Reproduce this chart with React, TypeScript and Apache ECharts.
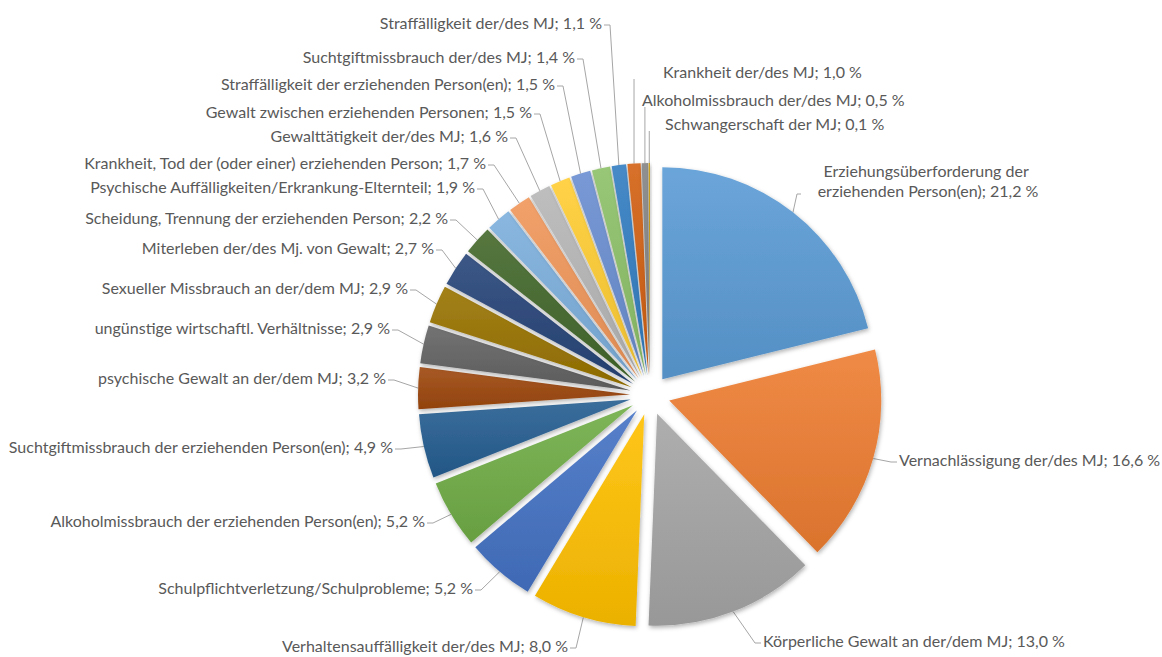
import React, { useEffect, useRef } from 'react';
import * as echarts from 'echarts';

const categories = [
  'Erziehungsüberforderung der erziehenden Person(en)',
  'Vernachlässigung der/des MJ',
  'Körperliche Gewalt an der/dem MJ',
  'Verhaltensauffälligkeit der/des MJ',
  'Schulpflichtverletzung/Schulprobleme',
  'Alkoholmissbrauch der erziehenden Person(en)',
  'Suchtgiftmissbrauch der erziehenden Person(en)',
  'psychische Gewalt an der/dem MJ',
  'ungünstige wirtschaftl. Verhältnisse',
  'Sexueller Missbrauch an der/dem MJ',
  'Miterleben der/des Mj. von Gewalt',
  'Scheidung, Trennung der erziehenden Person',
  'Psychische Auffälligkeiten/Erkrankung-Elternteil',
  'Krankheit, Tod der (oder einer) erziehenden Person',
  'Gewalttätigkeit der/des MJ',
  'Gewalt zwischen erziehenden Personen',
  'Straffälligkeit der erziehenden Person(en)',
  'Suchtgiftmissbrauch der/des MJ',
  'Straffälligkeit der/des MJ',
  'Krankheit der/des MJ',
  'Alkoholmissbrauch der/des MJ',
  'Schwangerschaft der MJ',
];

const values = [21.2, 16.6, 13.0, 8.0, 5.2, 5.2, 4.9, 3.2, 2.9, 2.9, 2.7, 2.2, 1.9, 1.7, 1.6, 1.5, 1.5, 1.4, 1.1, 1.0, 0.5, 0.1];

const baseColors = [
  '#5B9BD5', '#ED7D31', '#A5A5A5', '#FFC000', '#4472C4', '#70AD47',
  '#255E91', '#9E480E', '#636363', '#997300', '#264478', '#43682B',
  '#7CAFDD', '#F1975A', '#B7B7B7', '#FFCD33', '#698ED0', '#8CC168',
  '#327DC2', '#D26012', '#848484', '#BF9000',
];

// label anchor positions (x, y, align) — layout only
const LABEL_POS: [number, number, string][] = [
  [928, 180, 'center'],
  [899, 459, 'left'],
  [763, 640, 'left'],
  [568, 645, 'right'],
  [473, 587, 'right'],
  [425, 520, 'right'],
  [393, 446, 'right'],
  [386, 377, 'right'],
  [390, 327, 'right'],
  [408, 287, 'right'],
  [434, 247, 'right'],
  [448, 217, 'right'],
  [475, 186, 'right'],
  [486, 162, 'right'],
  [508, 135, 'right'],
  [532, 111, 'right'],
  [555, 83, 'right'],
  [575, 56, 'right'],
  [602, 22, 'right'],
  [663, 71, 'left'],
  [642, 99, 'left'],
  [665, 123, 'left'],
];

const CX = 650;
const CY = 395;
const R = 212;
const OFFSET = 20;

function shade(hex: string, f: number): string {
  const n = parseInt(hex.slice(1), 16);
  let r = (n >> 16) & 255, g = (n >> 8) & 255, b = n & 255;
  if (f >= 0) {
    r = Math.round(r + (255 - r) * f); g = Math.round(g + (255 - g) * f); b = Math.round(b + (255 - b) * f);
  } else {
    r = Math.round(r * (1 + f)); g = Math.round(g * (1 + f)); b = Math.round(b * (1 + f));
  }
  return `rgb(${r},${g},${b})`;
}

const fmt = (v: number) => v.toFixed(1).replace('.', ',') + ' %';

export default function App() {
  const ref = useRef<HTMLDivElement>(null);
  useEffect(() => {
    if (!ref.current) return;
    const chart = echarts.init(ref.current, null, { renderer: 'svg' });
    const sliceData = categories.map((name, i) => ({
      name,
      value: values[i],
      selected: true,
      itemStyle: {
        color: new echarts.graphic.LinearGradient(0, 0, 0, 1, [
          { offset: 0, color: shade(baseColors[i], 0.1) },
          { offset: 1, color: shade(baseColors[i], -0.08) },
        ]),
      },
    }));
    const labelData = categories.map((name, i) => ({
      name,
      value: values[i],
      label: i === 0 ? { width: 250, overflow: 'break', align: 'center', lineHeight: 20 } : undefined,
    }));
    chart.setOption({
      animation: false,
      series: [
        {
          type: 'pie',
          center: [CX, CY],
          radius: R,
          startAngle: 90,
          clockwise: true,
          selectedMode: 'multiple',
          selectedOffset: OFFSET,
          silent: true,
          emphasis: { disabled: true },
          itemStyle: {
            shadowBlur: 4,
            shadowOffsetX: 1,
            shadowOffsetY: 2,
            shadowColor: 'rgba(0,0,0,0.3)',
          },
          label: { show: false },
          labelLine: { show: false },
          data: sliceData,
        },
        {
          type: 'pie',
          center: [CX, CY],
          radius: R + OFFSET,
          startAngle: 90,
          clockwise: true,
          silent: true,
          avoidLabelOverlap: false,
          emphasis: { disabled: true },
          itemStyle: { color: 'rgba(0,0,0,0)' },
          label: {
            show: true,
            position: 'outside',
            color: '#595959',
            fontFamily: 'Lato',
            fontSize: 16,
            formatter: (p: any) => `${p.name}; ${fmt(p.value)}`,
          },
          labelLine: {
            show: true,
            length: 10,
            length2: 8,
            lineStyle: { color: '#A6A6A6', width: 1 },
          },
          labelLayout: (p: any) => {
            const i = p.dataIndex;
            const [x, y, align] = LABEL_POS[i];
            const p0 = p.labelLinePoints ? p.labelLinePoints[0] : [CX, CY];
            const w = p.labelRect.width;
            let pts: number[][];
            if (i === 0) {
              const lx = x - w / 2;
              pts = [p0, [lx - 6, y + 14], [lx - 2, y + 14]];
            } else if (i >= 19) {
              pts = [p0, [p0[0], y + 8]];
            } else if (align === 'left') {
              pts = [p0, [x - 8, y + 3], [x - 2, y + 3]];
            } else {
              pts = [p0, [x + 8, y + 3], [x + 2, y + 3]];
            }
            return { x, y, align, verticalAlign: 'middle', labelLinePoints: pts };
          },
          data: labelData,
        },
      ],
    });
    return () => chart.dispose();
  }, []);
  return <div ref={ref} style={{ position: 'fixed', left: 0, top: 0, width: 1162, height: 657, background: '#fff' }} />;
}
